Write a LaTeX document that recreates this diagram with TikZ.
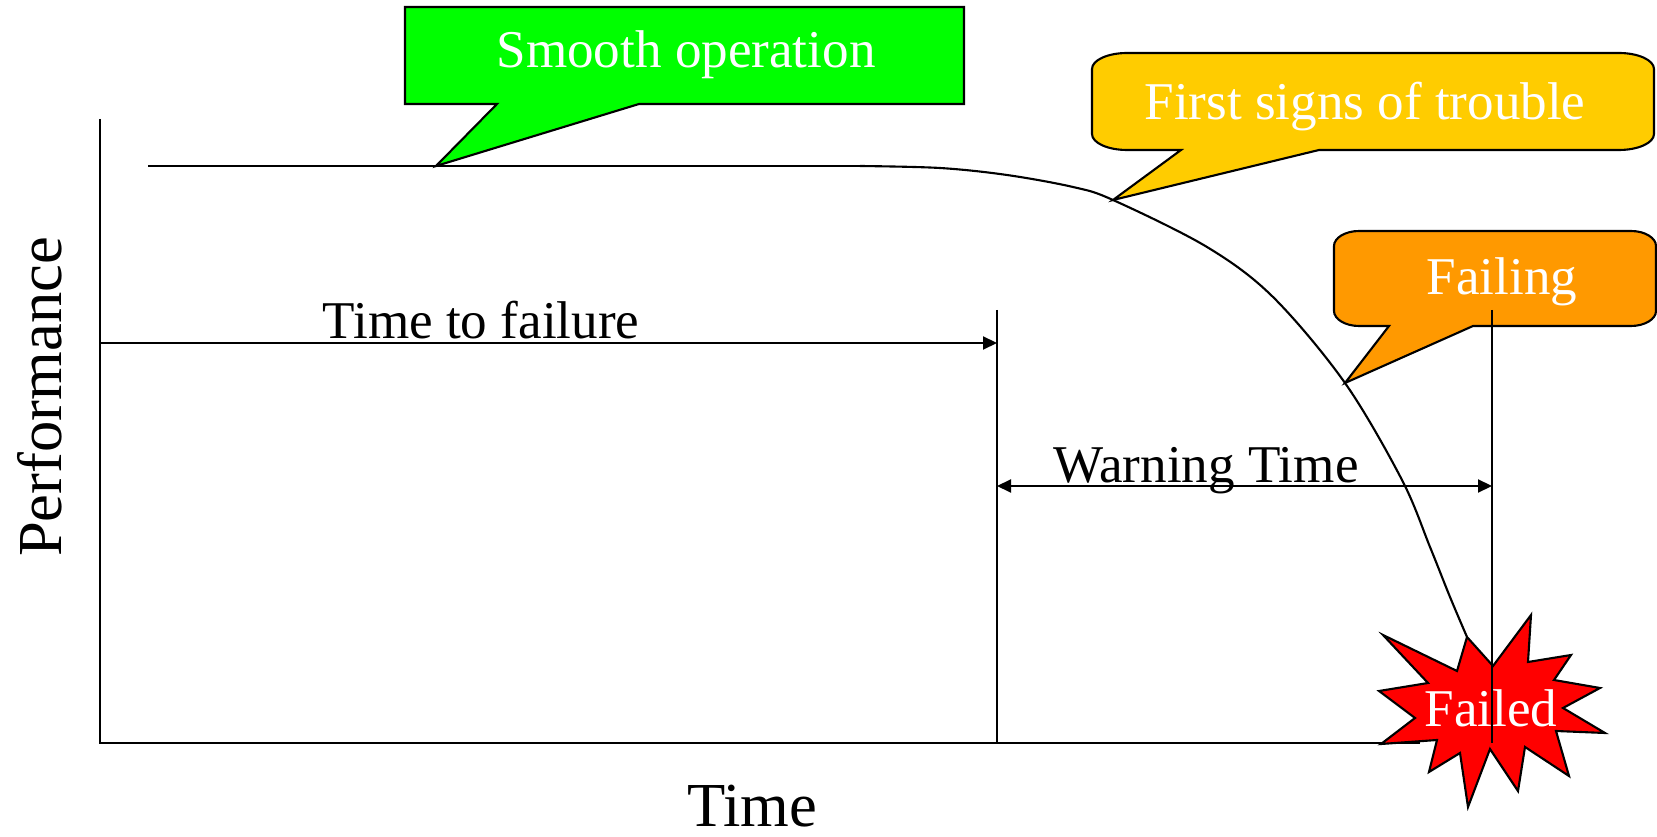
\documentclass[tikz,border=0pt]{standalone}
\usepackage{fontspec}
\setmainfont{Liberation Serif}
\usetikzlibrary{arrows.meta}
\definecolor{bgreen}{RGB}{0,255,0}
\definecolor{byellow}{RGB}{255,204,0}
\definecolor{borange}{RGB}{255,153,0}
\definecolor{bred}{RGB}{255,0,0}
\begin{document}
\begin{tikzpicture}[x=0.01cm,y=-0.01cm, line width=0.6pt,
 lbl/.style={font=\fontsize{15.1}{18}\selectfont, anchor=base, inner sep=0pt},
 wlbl/.style={lbl, text=white},
 axlbl/.style={font=\fontsize{17.8}{21}\selectfont, anchor=base, inner sep=0pt},
 bubble/.style={draw=black, line width=0.6pt, line join=miter},
 arr/.style={-{Triangle[length=0.14cm,width=0.13cm]}},
 darr/.style={{Triangle[length=0.14cm,width=0.13cm]}-{Triangle[length=0.14cm,width=0.13cm]}}]
\useasboundingbox (0,0) rectangle (1657,837);
% axes
\coordinate (Ytop) at (100,119);
\coordinate (O) at (100,743);
\coordinate (Xend) at (1420,743);
\draw (Ytop) -- (O) -- (Xend);
% performance curve
\coordinate (c0) at (148,166);
\coordinate (c1) at (860,166);
\coordinate (tipG) at (436,166);
\coordinate (tipY) at (1113,200);
\coordinate (tipO) at (1345,383);
\coordinate (cEnd) at (1467,637);
\draw (c0) -- (c1);
\draw plot[smooth, tension=0.55] coordinates {(c1) (940,168) (1007,175) (1073,187) (tipY) (1207,247) (1273,297) (tipO) (1402,480) (1430,547) (1450,597) (cEnd)};
% time markers
\coordinate (t1top) at (997,310);
\coordinate (t1bot) at (997,743);
\coordinate (t2top) at (1492,310);
\coordinate (t2bot) at (1492,743);
\coordinate (ttfS) at (100,343);
\coordinate (ttfE) at (997,343);
\coordinate (wtS) at (997,486);
\coordinate (wtE) at (1492,486);
\draw (t1top) -- (t1bot);
\draw[arr] (ttfS) -- (ttfE);
\draw[darr] (wtS) -- (wtE);
% callouts
\path[bubble, fill=bgreen] (405,7) -- (964,7) -- (964,104) -- (639,104) -- (tipG) -- (497,104) -- (405,104) -- cycle;
\path[bubble, fill=byellow] (1092,69) .. controls (1092,60) and (1108,53) .. (1127,53) -- (1619,53) .. controls (1638,53) and (1654,60) .. (1654,69) -- (1654,134) .. controls (1654,143) and (1638,150) .. (1619,150) -- (1319,150) -- (tipY) -- (1181,150) -- (1127,150) .. controls (1108,150) and (1092,143) .. (1092,134) -- cycle;
\path[bubble, fill=borange] (1334,246) .. controls (1334,238) and (1345,231) .. (1359,231) -- (1631,231) .. controls (1645,231) and (1656,238) .. (1656,246) -- (1656,311) .. controls (1656,319) and (1645,326) .. (1631,326) -- (1473,326) -- (tipO) -- (1389,326) -- (1359,326) .. controls (1345,326) and (1334,319) .. (1334,311) -- cycle;
% explosion
\path[bubble, fill=bred] (1383,635) -- (1457,671) -- (1467,637) -- (1493,666) -- (1531,615) -- (1528,662) -- (1571,655) -- (1554,680) -- (1600,688) -- (1563,708) -- (1605,733) -- (1556,731) -- (1569,776) -- (1525,747) -- (1518,791) -- (1490,749) -- (1468,807) -- (1460,753) -- (1429,772) -- (1437,740) -- (1381,744) -- (1415,718) -- (1379,691) -- (1428,683) -- cycle;
\draw (t2top) -- (t2bot);
% labels
\node[lbl] (ttf) at (481,339) {Time to failure};
\node[lbl] (wt) at (1206,483) {Warning Time};
\node[wlbl] (smooth) at (686,68) {Smooth operation};
\node[wlbl] (first) at (1365,120) {First signs of trouble};
\node[wlbl] (failing) at (1502,295) {Failing};
\node[wlbl] (failed) at (1491,726) {Failed};
\node[axlbl] (xlab) at (752,827) {Time};
\node[axlbl, rotate=90] (ylab) at (61,397) {Performance};
\end{tikzpicture}
\end{document}
